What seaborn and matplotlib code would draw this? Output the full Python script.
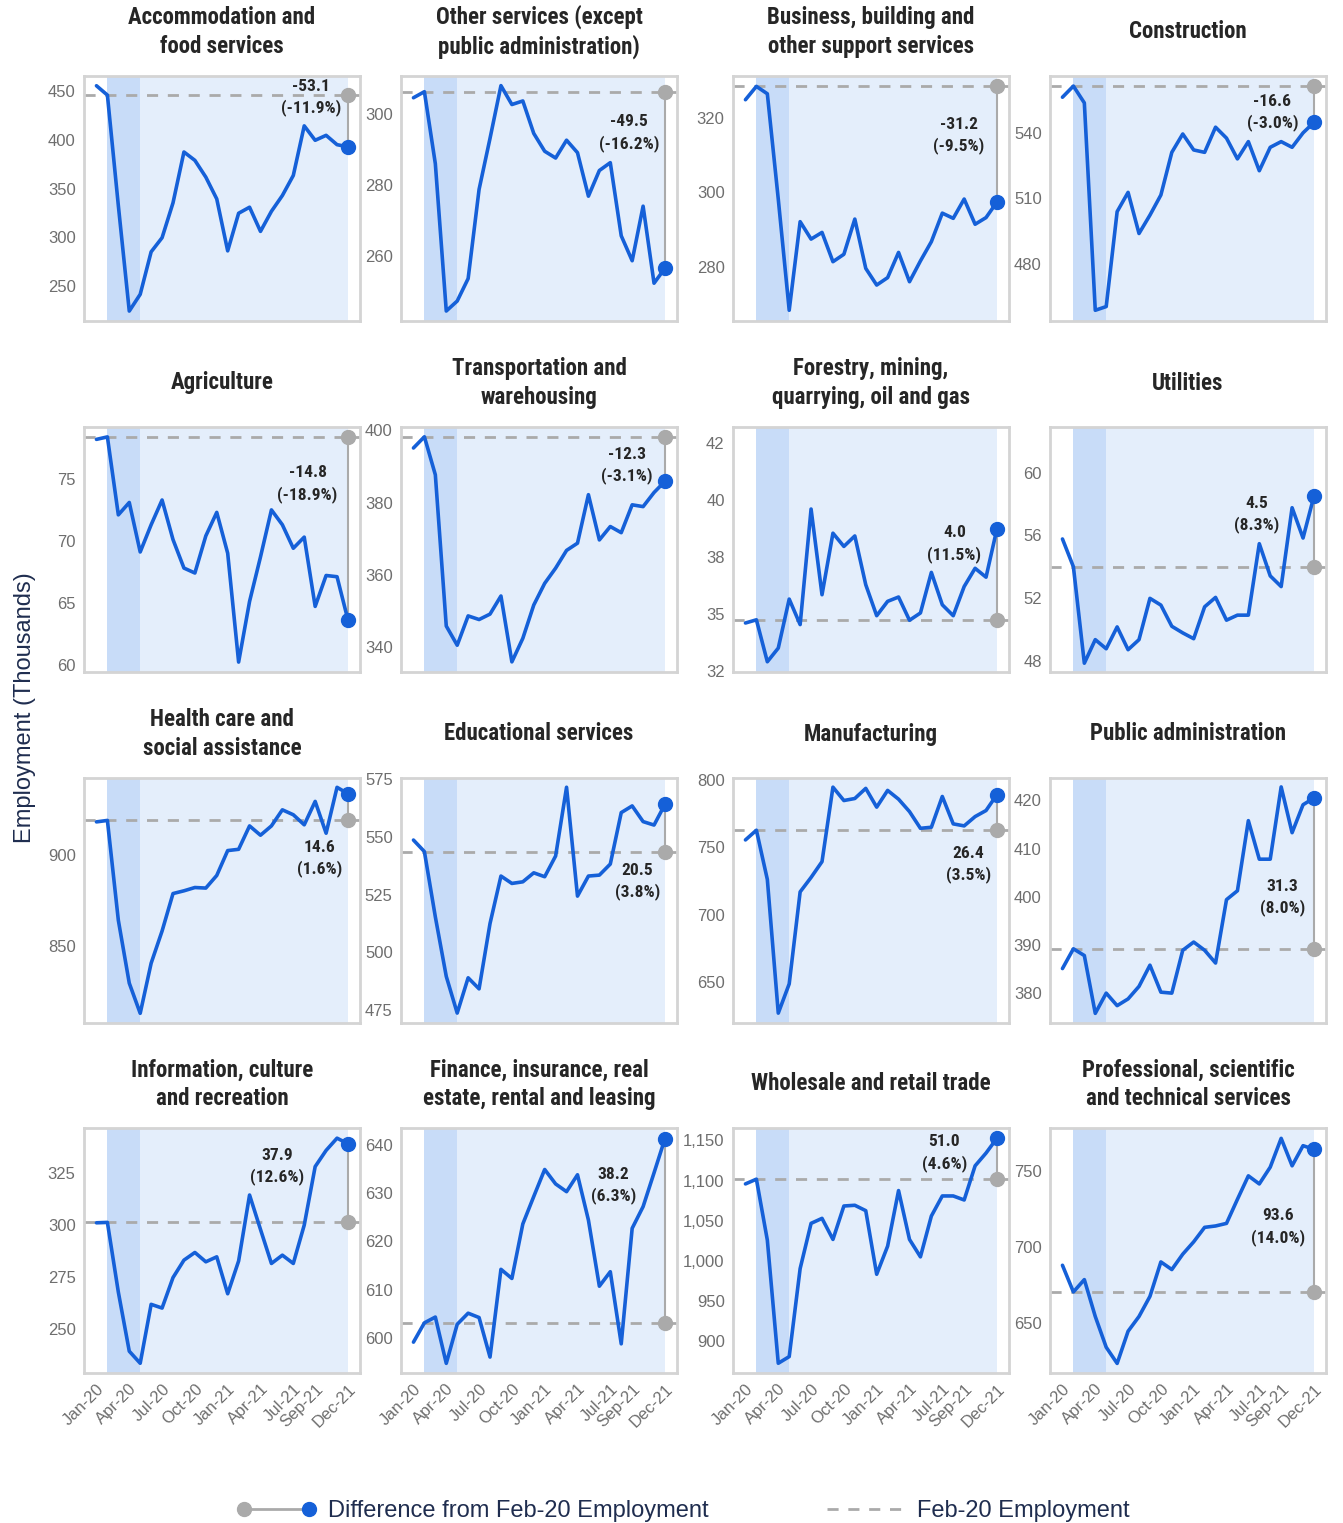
import matplotlib
matplotlib.use("Agg")
import matplotlib.pyplot as plt
from matplotlib.lines import Line2D
from matplotlib.legend_handler import HandlerBase
from matplotlib.ticker import FuncFormatter
import numpy as np
import pandas as pd
import seaborn as sns

# monthly employment (thousands), Jan-20 .. Dec-21
months = pd.date_range("2020-01-01", "2021-12-01", freq="MS").strftime("%b-%y").tolist()
tick_months = ["Jan-20", "Apr-20", "Jul-20", "Oct-20", "Jan-21", "Apr-21", "Jul-21", "Sep-21", "Dec-21"]

titles = [
    "Accommodation and\nfood services", "Other services (except\npublic administration)",
    "Business, building and\nother support services", "Construction",
    "Agriculture", "Transportation and\nwarehousing",
    "Forestry, mining,\nquarrying, oil and gas", "Utilities",
    "Health care and\nsocial assistance", "Educational services",
    "Manufacturing", "Public administration",
    "Information, culture\nand recreation", "Finance, insurance, real\nestate, rental and leasing",
    "Wholesale and retail trade", "Professional, scientific\nand technical services",
]

accommodation = [455.5, 445.9, 332.5, 224.2, 241.4, 285.0, 299.5, 335.3, 387.5, 378.9, 361.7, 339.3,
                 286.0, 324.6, 330.8, 306.0, 326.6, 342.8, 363.4, 414.3, 399.5, 404.6, 395.0, 392.8]
other_services = [304.5, 306.2, 286.0, 244.7, 247.5, 253.8, 278.8, 293.1, 307.9, 302.6, 303.6, 294.5,
                  289.5, 287.6, 292.6, 289.1, 276.9, 284.1, 286.3, 265.8, 258.8, 274.1, 252.5, 256.7]
business = [325.0, 328.6, 326.6, 298.2, 268.2, 292.1, 287.4, 289.2, 281.3, 283.3, 292.8, 279.5,
            275.0, 277.0, 283.8, 275.9, 281.5, 286.7, 294.4, 293.0, 298.2, 291.4, 293.2, 297.4]
construction = [556.3, 561.4, 553.7, 458.9, 460.6, 504.0, 512.8, 494.0, 502.4, 511.6, 531.1, 539.5,
                532.2, 531.1, 542.6, 537.6, 528.1, 536.0, 522.7, 533.4, 536.0, 533.4, 540.0, 544.8]
agriculture = [78.2, 78.4, 72.1, 73.1, 69.1, 71.3, 73.3, 70.1, 67.8, 67.4, 70.4, 72.3,
               69.0, 60.2, 65.1, 68.7, 72.5, 71.3, 69.4, 70.3, 64.7, 67.2, 67.1, 63.6]
transportation = [395.1, 398.2, 387.7, 345.9, 340.6, 348.7, 347.7, 349.2, 354.2, 336.0, 342.5, 351.7,
                  357.7, 361.9, 366.8, 368.8, 382.2, 369.7, 373.4, 371.7, 379.4, 378.9, 382.8, 385.9]
forestry = [34.6, 34.74, 32.9, 33.5, 35.65, 34.53, 39.6, 35.84, 38.54, 37.96, 38.42, 36.28,
            34.92, 35.55, 35.74, 34.72, 35.04, 36.82, 35.4, 34.92, 36.2, 37.0, 36.61, 38.74]
utilities = [55.77, 54.0, 47.86, 49.36, 48.78, 50.17, 48.72, 49.36, 51.99, 51.56, 50.21, 49.79,
             49.42, 51.45, 52.05, 50.6, 50.92, 50.92, 55.47, 53.42, 52.74, 57.76, 55.83, 58.5]
health = [918.1, 918.9, 864.3, 829.9, 813.4, 840.8, 858.4, 878.9, 880.4, 882.2, 881.9, 888.8,
          902.4, 903.1, 915.9, 910.8, 915.9, 924.7, 922.0, 916.5, 929.3, 911.9, 937.0, 933.5]
education = [548.6, 543.6, 515.3, 489.5, 473.6, 488.9, 484.1, 512.4, 533.0, 529.8, 530.5, 534.4,
             532.7, 541.7, 571.5, 524.3, 533.0, 533.4, 538.2, 560.5, 563.4, 556.6, 555.1, 564.1]
manufacturing = [755.4, 762.6, 726.1, 627.0, 648.7, 716.9, 727.6, 739.3, 794.5, 784.6, 786.1, 793.6,
                 779.7, 792.1, 785.6, 776.4, 764.0, 764.8, 787.6, 767.3, 765.8, 772.7, 777.2, 789.0]
public_admin = [385.1, 389.2, 387.8, 375.8, 380.0, 377.4, 378.8, 381.4, 385.8, 380.2, 380.0, 388.9,
                390.6, 388.9, 386.25, 399.4, 401.25, 415.8, 407.8, 407.8, 422.8, 413.3, 419.1, 420.5]
information = [301.1, 301.3, 267.7, 239.2, 233.4, 261.8, 260.0, 274.7, 283.1, 286.8, 282.3, 284.7,
               266.9, 282.7, 314.5, 297.9, 281.5, 285.5, 281.5, 300.0, 328.2, 336.0, 341.9, 339.2]
finance = [599.1, 603.1, 604.3, 594.7, 602.8, 605.1, 604.2, 596.0, 614.2, 612.3, 623.6, 629.3,
           634.9, 631.9, 630.3, 633.8, 624.4, 610.7, 613.7, 598.75, 622.7, 627.2, 634.2, 641.3]
wholesale = [1095.8, 1101.7, 1025.8, 872.5, 880.8, 990.4, 1046.7, 1052.9, 1026.7, 1068.3, 1069.2, 1062.5,
             983.3, 1018.3, 1087.5, 1026.7, 1005.0, 1055.8, 1080.8, 1080.8, 1075.8, 1118.3, 1134.2, 1152.7]
professional = [688.0, 670.5, 678.6, 654.4, 634.2, 623.6, 644.7, 654.4, 667.6, 690.2, 685.2, 695.3,
                703.4, 712.9, 713.8, 715.5, 731.3, 746.7, 741.4, 752.4, 771.3, 753.3, 766.5, 764.1]

series = [accommodation, other_services, business, construction,
          agriculture, transportation, forestry, utilities,
          health, education, manufacturing, public_admin,
          information, finance, wholesale, professional]

yticks = [
    [250, 300, 350, 400, 450], [260, 280, 300], [280, 300, 320], [480, 510, 540],
    [60, 65, 70, 75], [340, 360, 380, 400], [32.5, 35, 37.5, 40, 42.5], [48, 52, 56, 60],
    [850, 900], [475, 500, 525, 550, 575], [650, 700, 750, 800], [380, 390, 400, 410, 420],
    [250, 275, 300, 325], [600, 610, 620, 630, 640], [900, 950, 1000, 1050, 1100, 1150], [650, 700, 750],
]
ylims = [
    (214, 465.5), (241.9, 310.6), (265.3, 331.4), (454, 566),
    (59.4, 79.2), (333.2, 400.9), (32.45, 43.2), (47.3, 62.9),
    (808.1, 942.1), (469.3, 575.5), (619.7, 801.3), (373.8, 424.65),
    (228.7, 346.8), (592.7, 643.5), (860.4, 1165.4), (617.3, 778.1),
]
# where the difference label sits (month index, value)
label_x = [19.6, 19.7, 19.5, 19.2, 19.3, 19.5, 19.1, 17.8, 20.4, 20.5, 20.4, 20.1, 16.5, 18.3, 18.2, 19.7]
label_y = [443.1, 294.6, 315.3, 549.3, 74.6, 390.2, 38.07, 57.33, 898.0, 530.8, 737.0, 399.8,
           328.2, 631.5, 1134.2, 713.1]

BLUE = "#1560d8"
GREY = "#aaaaaa"
LIGHT = "#e4eefb"
DARK = "#c8dcf8"
NAVY = "#1f2d4f"
TICK = "#6e6e6e"

sns.set_style("white")
plt.rcParams["font.family"] = ["Liberation Sans", "DejaVu Sans"]
narrow = ["Liberation Sans Narrow", "Roboto Condensed", "Liberation Sans", "DejaVu Sans"]


class DiffHandler(HandlerBase):
    # grey dot -- grey line -- blue dot
    def create_artists(self, legend, orig_handle, xdescent, ydescent, width, height, fontsize, trans):
        y = height / 2 - ydescent
        x0, x1 = -xdescent + 4, width - xdescent - 4
        line = Line2D([x0, x1], [y, y], color=GREY, lw=2, transform=trans)
        a = Line2D([x0], [y], ls="none", marker="o", ms=10, color=GREY, transform=trans)
        b = Line2D([x1], [y], ls="none", marker="o", ms=10, color=BLUE, transform=trans)
        return [line, a, b]


W, H = 1343, 1523
fig = plt.figure(figsize=(W / 100, H / 100), dpi=100)
col_left = [84, 401, 733, 1050]
row_top = [76, 427, 778, 1128]
aw, ah = 276, 245

x = np.arange(len(months))
for i, (title, vals) in enumerate(zip(titles, series)):
    r, c = divmod(i, 4)
    ax = fig.add_axes([col_left[c] / W, 1 - (row_top[r] + ah) / H, aw / W, ah / H])
    feb, dec = vals[1], vals[-1]

    ax.axvspan(x[1], x[-1], color=LIGHT, lw=0, zorder=0)
    ax.axvspan(x[1], x[4], color=DARK, lw=0, zorder=0.5)
    ax.axhline(feb, color=GREY, lw=2, dashes=(4, 3.5), zorder=1)
    sns.lineplot(x=x, y=vals, ax=ax, color=BLUE, lw=2.6, zorder=3)
    ax.plot([x[-1], x[-1]], [feb, dec], color=GREY, lw=1.5, zorder=2)
    ax.plot(x[-1], feb, "o", ms=10, color=GREY, zorder=4, clip_on=False)
    ax.plot(x[-1], dec, "o", ms=10, color=BLUE, zorder=5, clip_on=False)

    diff = dec - feb
    pct = diff / feb * 100
    ax.text(label_x[i], label_y[i], f"{diff:.1f}\n({pct:.1f}%)", ha="center", va="center",
            fontsize=12.5, fontweight="bold", family=narrow, linespacing=1.4, zorder=6)
    ax.text(0.5, 1 + 44 / ah, title, transform=ax.transAxes, ha="center", va="center",
            fontsize=16.5, fontweight="bold", family=narrow, linespacing=1.3)

    ax.set_xlim(-1.14, 24.1)
    ax.set_ylim(ylims[i])
    ax.set_yticks(yticks[i])
    ax.yaxis.set_major_formatter(FuncFormatter(lambda v, p: f"{v:,.0f}"))
    if r == 3:
        ax.set_xticks([months.index(m) for m in tick_months])
        ax.set_xticklabels(tick_months, rotation=45, ha="right", va="top", rotation_mode="anchor")
    else:
        ax.set_xticks([])
    ax.tick_params(length=0, labelsize=12, labelcolor=TICK, pad=6)
    ax.set_xlabel("")
    ax.set_ylabel("")
    for s in ax.spines.values():
        s.set_color("#d4d4d4")
        s.set_linewidth(2)

fig.text(25 / W, 1 - 708 / H, "Employment (Thousands)", rotation=90, ha="center", va="center",
         fontsize=17, color=NAVY)

h_diff = Line2D([], [], color=GREY)
h_dash = Line2D([0, 1], [0, 0], color=GREY, lw=2, dashes=(4, 3.5))
fig.legend(handles=[h_diff, h_dash],
           labels=["Difference from Feb-20 Employment", "Feb-20 Employment"],
           handler_map={h_diff: DiffHandler()},
           loc="center", bbox_to_anchor=(684 / W, 1 - 1511 / H), ncol=2, frameon=False,
           fontsize=17, labelcolor=NAVY, handlelength=3.2, handletextpad=0.6, columnspacing=5.0)

fig.savefig("out.png", dpi=100)
